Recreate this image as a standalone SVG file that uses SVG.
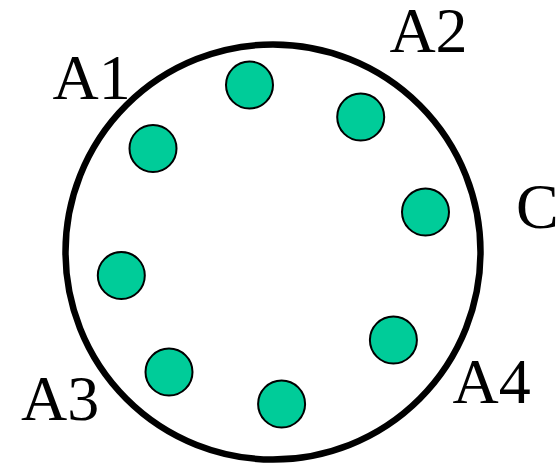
<svg xmlns="http://www.w3.org/2000/svg" width="560" height="463" viewBox="0 0 560 463">
<style>
.ring{fill:none;stroke:#000;stroke-width:6.5}
.dot{fill:#00cc99;stroke:#000;stroke-width:2}
.lbl{font-family:"Liberation Serif","Times New Roman",serif;font-size:64px;fill:#000}
</style>
<rect width="560" height="463" fill="#fff"/>
<g id="ring"><circle class="ring" cx="273" cy="252" r="207.5"/></g>
<g id="dots">
<g id="d1"><circle class="dot" cx="249.5" cy="85" r="23.5"/></g>
<g id="d2"><circle class="dot" cx="360.7" cy="117" r="23.5"/></g>
<g id="d3"><circle class="dot" cx="153" cy="148.5" r="23.5"/></g>
<g id="d4"><circle class="dot" cx="425.5" cy="212" r="23.5"/></g>
<g id="d5"><circle class="dot" cx="121.3" cy="275.5" r="23.5"/></g>
<g id="d6"><circle class="dot" cx="393.4" cy="340" r="23.5"/></g>
<g id="d7"><circle class="dot" cx="169" cy="372" r="23.5"/></g>
<g id="d8"><circle class="dot" cx="281.6" cy="404" r="23.5"/></g>
</g>
<g id="labels">
<text class="lbl" x="52.6" y="99">A1</text>
<text class="lbl" x="389.4" y="52">A2</text>
<text class="lbl" x="21" y="420">A3</text>
<text class="lbl" x="452.6" y="403">A4</text>
<text class="lbl" x="516" y="228">C</text>
</g>
</svg>
